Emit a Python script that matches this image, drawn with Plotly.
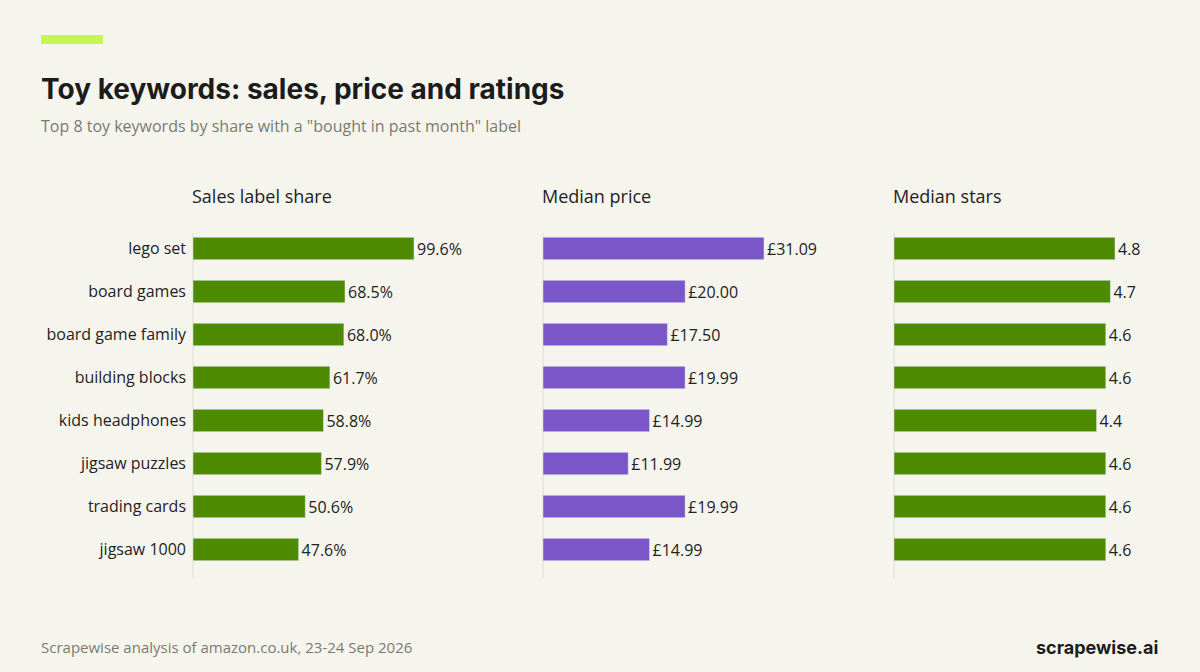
import plotly.graph_objects as go

keywords = ["lego set", "board games", "board game family", "building blocks",
            "kids headphones", "jigsaw puzzles", "trading cards", "jigsaw 1000"]
sales_share = [99.6, 68.5, 68.0, 61.7, 58.8, 57.9, 50.6, 47.6]
median_price = [31.09, 20.00, 17.50, 19.99, 14.99, 11.99, 19.99, 14.99]
median_stars = [4.8, 4.7, 4.6, 4.6, 4.4, 4.6, 4.6, 4.6]

W, H = 1200, 672
BG = "#f6f5ed"
GREEN = "#4e8a00"
PURPLE = "#7b56c8"
FONT = "Open Sans, Noto Sans, sans-serif"

panels = [
    ("Sales label share", sales_share, [f"{v:.1f}%" for v in sales_share], GREEN, 193),
    ("Median price", median_price, [f"£{v:.2f}" for v in median_price], PURPLE, 543),
    ("Median stars", median_stars, [f"{v:.1f}" for v in median_stars], GREEN, 894),
]
pw = 300
bar_px = 221

fig = go.Figure()
ydom = [1 - 571 / H, 1 - 227 / H]
for i, (name, vals, labels, color, x0) in enumerate(panels):
    n = "" if i == 0 else str(i + 1)
    fig.add_trace(go.Bar(
        x=vals, y=keywords, orientation="h", marker_color=color, width=0.52,
        text=labels, textposition="outside", cliponaxis=False,
        textfont=dict(size=16, color="#222", family=FONT),
        xaxis="x" + n, yaxis="y" + n, showlegend=False,
    ))
    fig.update_layout(**{
        "xaxis" + n: dict(domain=[x0 / W, (x0 + pw) / W],
                          range=[0, max(vals) * pw / bar_px],
                          visible=False, anchor="y" + n),
        "yaxis" + n: dict(domain=ydom, anchor="x" + n, autorange="reversed",
                          showticklabels=(i == 0), ticks="", showline=False,
                          showgrid=False,
                          tickfont=dict(size=16, color="#222", family=FONT),
                          ticklabelstandoff=6),
    })
    # thin baseline rule, slightly longer than the bar area
    fig.add_shape(type="line", xref="paper", yref="paper",
                  x0=x0 / W, x1=x0 / W, y0=1 - 578 / H, y1=1 - 233 / H,
                  line=dict(color="#dcdccf", width=1), layer="below")
    fig.add_annotation(x=(x0 - 3) / W, y=1 - 196 / H, xref="paper", yref="paper",
                       text=name, showarrow=False, xanchor="left", yanchor="middle",
                       font=dict(size=18, color="#222", family=FONT))

fig.add_shape(type="rect", xref="paper", yref="paper",
              x0=41 / W, x1=103 / W, y0=1 - 44 / H, y1=1 - 35 / H,
              fillcolor="#c6f54f", line_width=0)
fig.add_annotation(x=39 / W, y=1 - 89 / H, xref="paper", yref="paper",
                   text="<b>Toy keywords: sales, price and ratings</b>", showarrow=False,
                   xanchor="left", yanchor="middle",
                   font=dict(size=28, color="#1c1c1c", family="Inter, sans-serif"))
fig.add_annotation(x=39 / W, y=1 - 126 / H, xref="paper", yref="paper",
                   text='Top 8 toy keywords by share with a "bought in past month" label',
                   showarrow=False, xanchor="left", yanchor="middle",
                   font=dict(size=16, color="#7a7a72", family=FONT))
fig.add_annotation(x=39 / W, y=1 - 647 / H, xref="paper", yref="paper",
                   text="Scrapewise analysis of amazon.co.uk, 23-24 Sep 2026",
                   showarrow=False, xanchor="left", yanchor="middle",
                   font=dict(size=15, color="#7a7a72", family=FONT))
fig.add_annotation(x=1160 / W, y=1 - 647 / H, xref="paper", yref="paper",
                   text="<b>scrapewise.ai</b>", showarrow=False,
                   xanchor="right", yanchor="middle",
                   font=dict(size=18, color="#1c1c1c", family="Inter, sans-serif"))

fig.update_layout(width=W, height=H, margin=dict(l=0, r=0, t=0, b=0),
                  paper_bgcolor=BG, plot_bgcolor=BG, bargap=0.48)
fig.write_html("out.html", config={"displayModeBar": False},
               post_script="document.body.style.margin='0';")
